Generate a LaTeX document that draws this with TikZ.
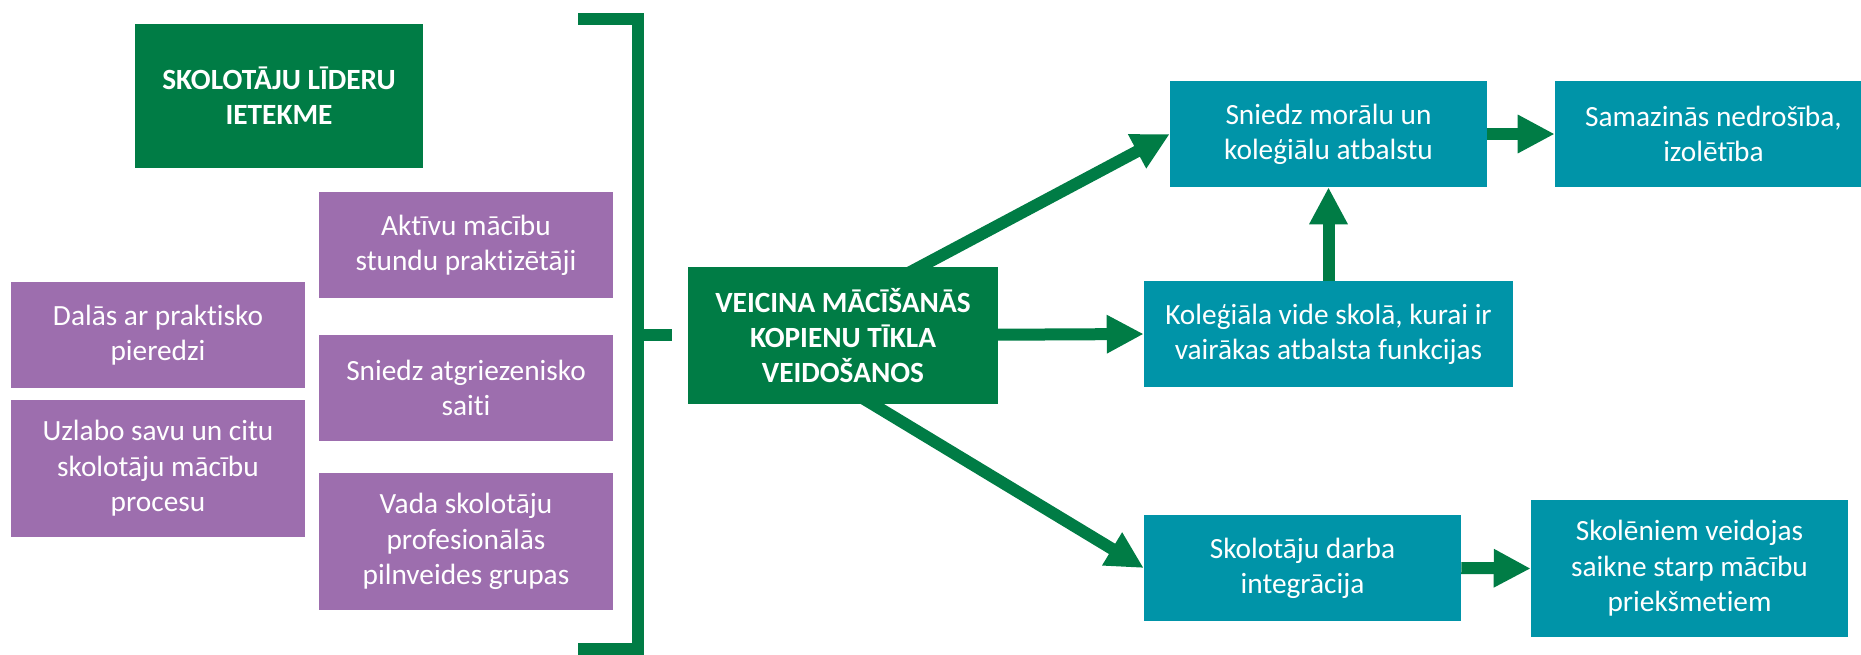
\documentclass[tikz,border=0pt]{standalone}
\usepackage{fontspec}
\setmainfont[Ligatures=NoCommon]{Carlito}
\usetikzlibrary{arrows.meta}
\definecolor{dgreen}{RGB}{0,124,69}
\definecolor{lpurple}{RGB}{157,110,174}
\definecolor{tealc}{RGB}{0,148,168}
\pgfdeclarelayer{bg}
\pgfsetlayers{bg,main}
\tikzset{
  basebox/.style={inner sep=0pt, align=center, text=white, font=\fontsize{22}{26.5}\selectfont},
  greenbox/.style={basebox, fill=dgreen, font=\fontsize{22}{26.5}\selectfont\bfseries},
  purplebox/.style={basebox, fill=lpurple},
  tealbox/.style={basebox, fill=tealc},
  fatarrow/.style={draw=dgreen, line width=9pt, -{Triangle[length=27.75pt,width=27pt]}, fill=dgreen},
  bracketline/.style={draw=dgreen, line width=8.6pt, line join=miter}
}
\begin{document}
\begin{tikzpicture}[x=0.75pt,y=-0.75pt]
\clip (0,0) rectangle (1861,654);
% left part
\node[greenbox, minimum width=216pt, minimum height=108pt] (lead) at (279,96) {SKOLOTĀJU LĪDERU\\IETEKME};
\node[purplebox, minimum width=220.5pt, minimum height=79.5pt] (akt) at (466,245) {Aktīvu mācību\\stundu praktizētāji};
\node[purplebox, minimum width=220.5pt, minimum height=79.5pt] (dal) at (158,335) {Dalās ar praktisko\\pieredzi};
\node[purplebox, minimum width=220.5pt, minimum height=79.5pt] (atg) at (466,388) {Sniedz atgriezenisko\\saiti};
\node[purplebox, minimum width=220.5pt, minimum height=102.75pt] (uzl) at (158,468.5) {Uzlabo savu un citu\\skolotāju mācību\\procesu};
\node[purplebox, minimum width=220.5pt, minimum height=102.75pt] (vad) at (466,541.5) {Vada skolotāju\\profesionālās\\pilnveides grupas};
% bracket
\draw[bracketline] (578,19) -- (638,19) -- (638,649) -- (578,649);
\draw[bracketline] (638,335) -- (672,335);
% centre
\node[greenbox, minimum width=232.5pt, minimum height=102.75pt] (veic) at (843,335.5) {VEICINA MĀCĪŠANĀS\\KOPIENU TĪKLA\\VEIDOŠANOS};
% right part
\node[tealbox, minimum width=237.75pt, minimum height=79.5pt] (smor) at (1328.5,134) {Sniedz morālu un\\koleģiālu atbalstu};
\node[tealbox, minimum width=237.75pt, minimum height=79.5pt] (sam) at (1713.5,134) {Samazinās nedrošība,\\izolētība};
\node[tealbox, minimum width=276.75pt, minimum height=79.5pt] (kol) at (1328.5,334) {Koleģiāla vide skolā, kurai ir\\vairākas atbalsta funkcijas};
\node[tealbox, minimum width=237.75pt, minimum height=79.5pt] (sdarb) at (1302.5,568) {Skolotāju darba\\integrācija};
\node[tealbox, minimum width=237.75pt, minimum height=102.75pt] (skol) at (1689.5,568.5) {Skolēniem veidojas\\saikne starp mācību\\priekšmetiem};
% arrows
\begin{pgfonlayer}{bg}
\draw[fatarrow] ([xshift=-39pt]veic.center) -- (smor.west);
\draw[fatarrow] (veic.center) -- (kol.west);
\draw[fatarrow] ([xshift=-63pt]veic.center) -- (sdarb.west);
\end{pgfonlayer}
\draw[fatarrow] (kol.north) -- (smor.south);
\draw[fatarrow] (smor.east) -- (sam.west);
\draw[fatarrow] (sdarb.east) -- (skol.west);
\end{tikzpicture}
\end{document}
